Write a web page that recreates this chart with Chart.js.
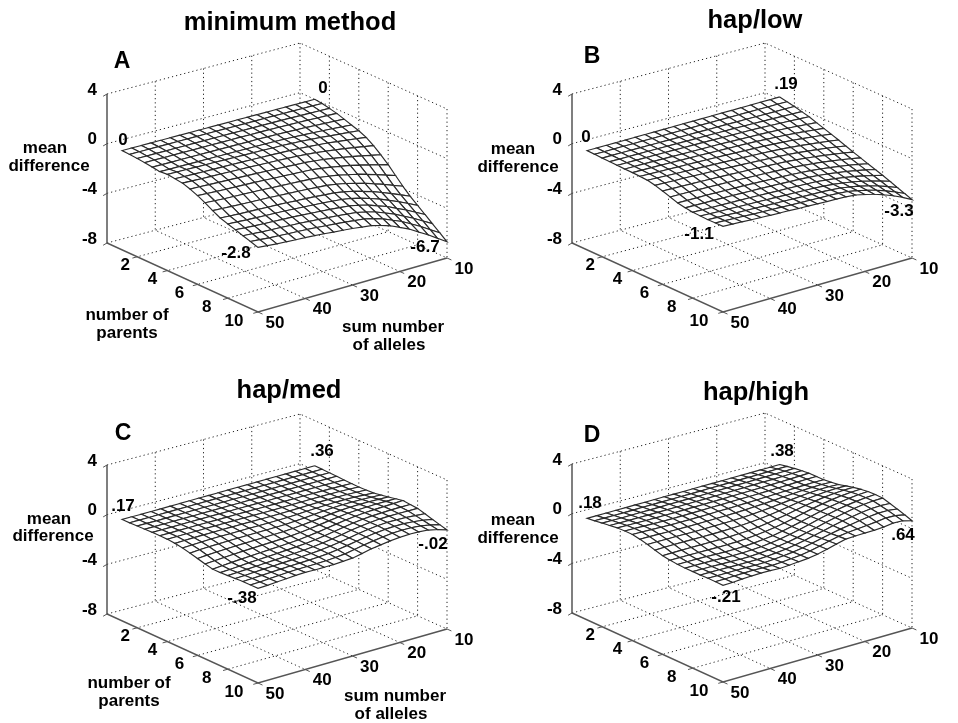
<!DOCTYPE html>
<html>
<head>
<meta charset="utf-8">
<title>mean difference surfaces</title>
<script src="https://cdn.jsdelivr.net/npm/chart.js@4"></script>
<style>
  body { margin: 0; background: #fff; overflow: hidden; }
  .panel { position: absolute; width: 493px; height: 353px; }
</style>
</head>
<body>
<div class="panel" style="left:0;top:0"><canvas id="chartA"></canvas></div>
<div class="panel" style="left:465px;top:0"><canvas id="chartB"></canvas></div>
<div class="panel" style="left:0;top:371px"><canvas id="chartC"></canvas></div>
<div class="panel" style="left:465px;top:370px"><canvas id="chartD"></canvas></div>
<script>
// axes
const parentsGrid = [1, 1.5, 2, 2.5, 3, 3.5, 4, 4.5, 5, 5.5, 6, 6.5, 7, 7.5, 8, 8.5, 9, 9.5, 10];
const allelesGrid = [10, 12, 14, 16, 18, 20, 22, 24, 26, 28, 30, 32, 34, 36, 38, 40, 42, 44, 46, 48, 50];
const parentsTicks = [2, 4, 6, 8, 10];
const allelesTicks = [10, 20, 30, 40, 50];
const zTicks = [4, 0, -4, -8];

// surfaces, one row per parentsGrid value, one column per allelesGrid value
const surfaceA = [
  [0, 0, 0, 0, 0, 0, 0, 0, 0, 0, 0, 0, 0, 0, 0, 0, 0, 0, 0, 0, 0],
  [-.07, -.06, -.06, -.05, -.05, -.04, -.04, -.04, -.04, -.04, -.03, -.03, -.03, -.03, -.03, -.03, -.03, -.03, -.03, -.03, -.03],
  [-.20, -.19, -.17, -.16, -.14, -.13, -.12, -.12, -.11, -.11, -.10, -.10, -.10, -.10, -.09, -.09, -.09, -.09, -.09, -.09, -.08],
  [-.34, -.31, -.29, -.26, -.24, -.22, -.21, -.19, -.18, -.18, -.17, -.17, -.17, -.16, -.16, -.16, -.15, -.15, -.15, -.14, -.14],
  [-.54, -.50, -.46, -.42, -.38, -.36, -.33, -.31, -.29, -.28, -.28, -.27, -.26, -.26, -.25, -.25, -.24, -.24, -.24, -.23, -.22],
  [-.74, -.68, -.63, -.58, -.53, -.49, -.45, -.42, -.40, -.39, -.38, -.37, -.36, -.35, -.35, -.34, -.34, -.33, -.32, -.32, -.31],
  [-.94, -.86, -.79, -.72, -.64, -.58, -.53, -.49, -.45, -.44, -.41, -.39, -.38, -.36, -.34, -.33, -.32, -.30, -.28, -.27, -.25],
  [-1.21, -1.11, -1.01, -.92, -.82, -.75, -.69, -.63, -.59, -.56, -.53, -.51, -.48, -.46, -.44, -.42, -.41, -.39, -.37, -.35, -.32],
  [-1.61, -1.48, -1.34, -1.22, -1.10, -1.00, -.90, -.83, -.77, -.73, -.69, -.66, -.63, -.59, -.57, -.54, -.51, -.49, -.47, -.43, -.40],
  [-2.08, -1.91, -1.74, -1.59, -1.44, -1.31, -1.19, -1.10, -1.02, -.98, -.93, -.89, -.86, -.82, -.79, -.76, -.73, -.70, -.67, -.63, -.60],
  [-2.61, -2.41, -2.20, -2.01, -1.82, -1.68, -1.53, -1.42, -1.32, -1.27, -1.23, -1.18, -1.15, -1.10, -1.06, -1.03, -1.00, -.97, -.93, -.89, -.85],
  [-3.22, -2.97, -2.72, -2.49, -2.26, -2.09, -1.91, -1.78, -1.67, -1.61, -1.56, -1.52, -1.47, -1.43, -1.38, -1.35, -1.31, -1.28, -1.25, -1.20, -1.15],
  [-3.82, -3.53, -3.24, -2.98, -2.72, -2.52, -2.31, -2.16, -2.04, -1.98, -1.92, -1.87, -1.82, -1.78, -1.73, -1.70, -1.66, -1.63, -1.59, -1.55, -1.50],
  [-4.36, -4.03, -3.71, -3.41, -3.12, -2.89, -2.67, -2.50, -2.37, -2.31, -2.24, -2.19, -2.15, -2.09, -2.05, -2.02, -1.98, -1.95, -1.92, -1.87, -1.82],
  [-4.82, -4.46, -4.10, -3.78, -3.46, -3.20, -2.95, -2.77, -2.63, -2.56, -2.48, -2.43, -2.38, -2.32, -2.27, -2.23, -2.20, -2.16, -2.12, -2.07, -2.02],
  [-5.29, -4.90, -4.50, -4.15, -3.79, -3.52, -3.24, -3.04, -2.88, -2.80, -2.73, -2.66, -2.61, -2.54, -2.49, -2.45, -2.41, -2.37, -2.33, -2.27, -2.21],
  [-5.76, -5.33, -4.90, -4.52, -4.13, -3.83, -3.53, -3.31, -3.14, -3.05, -2.97, -2.90, -2.84, -2.77, -2.71, -2.67, -2.62, -2.58, -2.54, -2.47, -2.41],
  [-6.23, -5.77, -5.30, -4.88, -4.46, -4.14, -3.81, -3.58, -3.39, -3.30, -3.21, -3.13, -3.07, -2.99, -2.93, -2.88, -2.84, -2.79, -2.74, -2.67, -2.60],
  [-6.7, -6.2, -5.7, -5.25, -4.8, -4.45, -4.1, -3.85, -3.65, -3.55, -3.45, -3.37, -3.3, -3.22, -3.15, -3.1, -3.05, -3.0, -2.95, -2.87, -2.8]
];

const surfaceB = [
  [.19, .18, .17, .16, .15, .14, .13, .12, .11, .10, .09, .08, .07, .06, .05, .04, .03, .02, .01, 0, 0],
  [.07, .07, .06, .06, .06, .05, .05, .05, .04, .04, .03, .03, .02, .02, .01, .01, 0, 0, -.01, -.02, -.02],
  [-.05, -.05, -.05, -.05, -.04, -.04, -.04, -.04, -.04, -.04, -.04, -.04, -.04, -.04, -.04, -.04, -.04, -.04, -.04, -.04, -.05],
  [-.2, -.18, -.16, -.14, -.13, -.11, -.10, -.09, -.09, -.08, -.08, -.08, -.07, -.07, -.07, -.06, -.06, -.06, -.06, -.06, -.06],
  [-.35, -.31, -.27, -.24, -.21, -.18, -.16, -.15, -.14, -.13, -.12, -.11, -.1, -.1, -.09, -.09, -.08, -.08, -.08, -.08, -.08],
  [-.55, -.49, -.43, -.38, -.33, -.29, -.26, -.24, -.22, -.2, -.18, -.17, -.16, -.15, -.14, -.13, -.12, -.11, -.1, -.1, -.1],
  [-.75, -.67, -.59, -.52, -.46, -.41, -.37, -.33, -.3, -.28, -.26, -.24, -.22, -.2, -.18, -.17, -.15, -.14, -.13, -.12, -.11],
  [-.95, -.85, -.76, -.68, -.6, -.54, -.49, -.44, -.41, -.38, -.35, -.32, -.3, -.27, -.25, -.23, -.21, -.19, -.17, -.15, -.13],
  [-1.15, -1.04, -.94, -.85, -.76, -.69, -.62, -.57, -.53, -.5, -.46, -.43, -.4, -.37, -.34, -.31, -.29, -.26, -.23, -.2, -.17],
  [-1.37, -1.24, -1.13, -1.03, -.94, -.85, -.78, -.72, -.68, -.64, -.6, -.56, -.53, -.49, -.46, -.43, -.4, -.37, -.35, -.32, -.3],
  [-1.6, -1.46, -1.33, -1.22, -1.12, -1.03, -.95, -.88, -.83, -.79, -.75, -.72, -.69, -.65, -.62, -.59, -.56, -.54, -.52, -.5, -.48],
  [-1.8, -1.65, -1.52, -1.4, -1.29, -1.2, -1.12, -1.05, -1, -.96, -.92, -.89, -.86, -.83, -.8, -.77, -.75, -.73, -.71, -.7, -.68],
  [-2, -1.84, -1.7, -1.57, -1.46, -1.36, -1.28, -1.21, -1.16, -1.12, -1.09, -1.05, -1.02, -.99, -.97, -.95, -.93, -.91, -.9, -.89, -.88],
  [-2.2, -2.02, -1.86, -1.72, -1.6, -1.49, -1.4, -1.33, -1.28, -1.25, -1.21, -1.18, -1.15, -1.12, -1.1, -1.08, -1.06, -1.04, -1.03, -1.02, -1],
  [-2.4, -2.2, -2.02, -1.86, -1.72, -1.6, -1.5, -1.42, -1.38, -1.35, -1.32, -1.29, -1.26, -1.23, -1.2, -1.18, -1.16, -1.14, -1.12, -1.1, -1.08],
  [-2.62, -2.38, -2.17, -1.97, -1.81, -1.68, -1.57, -1.5, -1.45, -1.42, -1.39, -1.36, -1.33, -1.3, -1.27, -1.25, -1.22, -1.19, -1.17, -1.14, -1.1],
  [-2.85, -2.57, -2.3, -2.07, -1.88, -1.73, -1.6, -1.53, -1.48, -1.46, -1.43, -1.4, -1.37, -1.34, -1.31, -1.28, -1.25, -1.22, -1.18, -1.15, -1.12],
  [-3.07, -2.73, -2.43, -2.16, -1.94, -1.76, -1.61, -1.54, -1.5, -1.48, -1.45, -1.42, -1.39, -1.35, -1.32, -1.29, -1.26, -1.22, -1.18, -1.14, -1.11],
  [-3.3, -2.9, -2.55, -2.25, -2.0, -1.8, -1.62, -1.55, -1.52, -1.5, -1.47, -1.43, -1.4, -1.36, -1.33, -1.3, -1.26, -1.22, -1.18, -1.14, -1.1]
];

const surfaceC = [
  [.36, .35, .34, .33, .32, .31, .30, .29, .28, .27, .26, .25, .24, .23, .22, .21, .20, .19, .18, .18, .17],
  [.35, .34, .33, .33, .32, .31, .3, .29, .28, .27, .26, .26, .25, .24, .23, .22, .21, .2, .19, .19, .18],
  [.33, .33, .32, .32, .31, .3, .3, .29, .28, .27, .27, .26, .25, .25, .24, .23, .22, .21, .2, .2, .2],
  [.31, .31, .31, .31, .3, .3, .29, .29, .28, .28, .27, .27, .26, .26, .25, .24, .24, .23, .22, .22, .22],
  [.28, .29, .3, .3, .3, .29, .29, .29, .28, .28, .28, .28, .27, .27, .27, .26, .26, .25, .25, .24, .24],
  [.26, .28, .29, .3, .3, .3, .29, .29, .28, .28, .28, .28, .28, .28, .27, .27, .27, .26, .26, .25, .25],
  [.25, .28, .3, .31, .31, .31, .3, .29, .28, .27, .27, .27, .27, .27, .27, .27, .27, .26, .26, .25, .24],
  [.27, .3, .33, .34, .34, .33, .31, .29, .27, .26, .25, .25, .25, .25, .25, .25, .24, .24, .23, .21, .19],
  [.3, .34, .38, .4, .39, .37, .34, .3, .26, .23, .21, .2, .2, .2, .2, .19, .19, .18, .16, .13, .1],
  [.4, .43, .46, .47, .46, .43, .38, .32, .25, .2, .15, .13, .12, .12, .11, .1, .09, .07, .05, .02, -.04],
  [.5, .53, .55, .55, .53, .49, .42, .33, .24, .16, .09, .05, .03, .01, 0, -.02, -.04, -.07, -.1, -.14, -.2],
  [.63, .63, .63, .61, .58, .53, .44, .34, .23, .13, .04, -.02, -.06, -.09, -.12, -.15, -.18, -.22, -.26, -.31, -.36],
  [.75, .72, .69, .66, .62, .56, .47, .35, .23, .11, .01, -.07, -.12, -.17, -.21, -.25, -.29, -.33, -.38, -.44, -.5],
  [.7, .7, .69, .67, .64, .58, .49, .37, .24, .11, 0, -.08, -.14, -.19, -.24, -.28, -.32, -.36, -.41, -.46, -.5],
  [.65, .66, .67, .67, .65, .59, .5, .39, .25, .12, .01, -.07, -.14, -.19, -.23, -.27, -.31, -.35, -.39, -.43, -.46],
  [.48, .55, .61, .64, .64, .59, .51, .4, .26, .13, .02, -.07, -.13, -.17, -.21, -.24, -.27, -.31, -.35, -.39, -.42],
  [.3, .44, .54, .6, .6, .57, .49, .39, .26, .13, .01, -.08, -.14, -.17, -.2, -.22, -.25, -.28, -.32, -.36, -.38],
  [.14, .33, .47, .54, .56, .53, .45, .35, .24, .09, -.05, -.12, -.17, -.19, -.2, -.2, -.23, -.27, -.31, -.36, -.38],
  [-.02, .22, .4, .47, .5, .47, .4, .3, .2, .03, -.12, -.16, -.2, -.2, -.2, -.18, -.2, -.25, -.3, -.35, -.38]
];

const surfaceD = [
  [.38, .37, .36, .35, .34, .33, .32, .31, .3, .29, .28, .27, .26, .25, .24, .23, .22, .21, .2, .19, .18],
  [.5, .49, .47, .45, .44, .43, .41, .4, .39, .37, .36, .35, .34, .33, .32, .31, .29, .28, .27, .27, .26],
  [.6, .58, .56, .54, .53, .51, .5, .48, .47, .45, .44, .43, .42, .41, .39, .38, .37, .36, .35, .35, .35],
  [.68, .66, .63, .61, .6, .58, .56, .55, .53, .52, .5, .49, .48, .47, .46, .45, .44, .43, .43, .43, .44],
  [.75, .72, .69, .66, .64, .62, .61, .59, .58, .56, .55, .53, .52, .51, .5, .49, .49, .49, .5, .51, .52],
  [.75, .74, .71, .68, .66, .64, .62, .6, .59, .58, .56, .55, .53, .52, .51, .5, .5, .51, .52, .54, .55],
  [.75, .76, .74, .71, .68, .65, .62, .59, .57, .55, .53, .52, .5, .49, .48, .48, .48, .5, .52, .54, .55],
  [.82, .84, .82, .78, .73, .68, .62, .57, .53, .49, .46, .44, .42, .41, .4, .4, .4, .41, .43, .44, .44],
  [.9, .93, .92, .87, .8, .72, .63, .54, .47, .41, .36, .33, .31, .3, .29, .29, .29, .3, .3, .3, .3],
  [1.05, 1.05, 1.02, .96, .87, .77, .64, .51, .4, .31, .24, .19, .16, .15, .14, .14, .14, .15, .15, .14, .12],
  [1.2, 1.18, 1.13, 1.05, .94, .81, .65, .49, .35, .22, .12, .05, .01, -.02, -.03, -.03, -.03, -.03, -.03, -.04, -.05],
  [1.32, 1.28, 1.21, 1.12, .99, .84, .66, .47, .31, .16, .04, -.05, -.11, -.15, -.17, -.17, -.16, -.15, -.14, -.14, -.14],
  [1.4, 1.35, 1.27, 1.16, 1.03, .86, .67, .47, .29, .13, -.02, -.12, -.19, -.24, -.26, -.26, -.24, -.21, -.2, -.2, -.2],
  [1.42, 1.38, 1.3, 1.19, 1.05, .88, .69, .49, .3, .13, -.02, -.13, -.21, -.26, -.29, -.29, -.27, -.24, -.22, -.22, -.22],
  [1.4, 1.38, 1.31, 1.2, 1.06, .9, .72, .52, .33, .15, 0, -.12, -.2, -.26, -.3, -.3, -.28, -.26, -.24, -.23, -.22],
  [1.23, 1.27, 1.24, 1.15, 1.03, .89, .73, .55, .37, .19, .04, -.08, -.16, -.23, -.27, -.27, -.26, -.25, -.23, -.22, -.22],
  [1.05, 1.15, 1.15, 1.07, .97, .85, .73, .58, .41, .24, .08, -.04, -.12, -.18, -.23, -.23, -.21, -.21, -.21, -.21, -.2],
  [.85, 1.0, 1.02, .93, .85, .79, .72, .63, .46, .27, .1, -.02, -.09, -.15, -.19, -.17, -.15, -.16, -.18, -.2, -.2],
  [.64, .85, .88, .78, .73, .73, .72, .68, .5, .3, .12, 0, -.06, -.12, -.16, -.12, -.1, -.12, -.15, -.2, -.21]
];

const titles = ['minimum method', 'hap/low', 'hap/med', 'hap/high'];
const letters = ['A', 'B', 'C', 'D'];
// corner values: left, back, front, right
const cornerLabelsA = ['0', '0', '-2.8', '-6.7'];
const cornerLabelsB = ['0', '.19', '-1.1', '-3.3'];
const cornerLabelsC = ['.17', '.36', '-.38', '-.02'];
const cornerLabelsD = ['.18', '.38', '-.21', '.64'];

// where things go on each panel
const layouts = [
  { titleX: 290, titleY: 30, letter: [122, 62], mean: [45, 148], diff: [49, 166], corners: [[123, 140], [323, 88], [236, 253], [425, 247]], parents: [127, 315], sum: [393, 327] },
  { titleX: 290, titleY: 28, letter: [127, 57], mean: [48, 149], diff: [53, 167], corners: [[121, 137], [321, 84], [234, 234], [434, 211]] },
  { titleX: 289, titleY: 27, letter: [123, 63], mean: [49, 148], diff: [53, 165], corners: [[123, 135], [322, 80], [242, 227], [433, 173]], parents: [129, 312], sum: [395, 325] },
  { titleX: 291, titleY: 30, letter: [127, 66], mean: [48, 150], diff: [53, 168], corners: [[125, 133], [317, 81], [261, 227], [438, 165]] }
];

// floor corners of the box, in panel units
const floorLeft = { x: 107, y: 243 };   // parents 0, alleles 50
const floorFront = { x: 258, y: 312 };  // parents 10, alleles 50
const floorRight = { x: 447, y: 258 };  // parents 10, alleles 10
const floorBack = { x: 300, y: 192 };   // parents 0, alleles 10
const zUnit = 149 / 12;

function project(p, a, z) {
  const u = p / 10;
  const v = (a - 10) / 40;
  const x = (1 - u) * (1 - v) * floorBack.x + u * (1 - v) * floorRight.x + (1 - u) * v * floorLeft.x + u * v * floorFront.x;
  const y = (1 - u) * (1 - v) * floorBack.y + u * (1 - v) * floorRight.y + (1 - u) * v * floorLeft.y + u * v * floorFront.y;
  return { x: x, y: y - (z + 8) * zUnit };
}

function lineDataset(points, color, width, dash, order) {
  return { data: points, showLine: true, pointRadius: 0, borderColor: color, borderWidth: width, borderDash: dash, fill: false, order: order };
}

function buildDatasets(surface) {
  const sets = [];
  const dots = [1.2, 3];
  const gridColor = '#222';

  // dotted box behind the surface
  zTicks.forEach(z => {
    sets.push(lineDataset([project(0, 50, z), project(0, 10, z), project(10, 10, z)], gridColor, 1, dots, 100000));
  });
  [20, 30, 40].forEach(a => {
    sets.push(lineDataset([project(0, a, 4), project(0, a, -8), project(10, a, -8)], gridColor, 1, dots, 100000));
  });
  [2, 4, 6, 8].forEach(p => {
    sets.push(lineDataset([project(p, 10, 4), project(p, 10, -8), project(p, 50, -8)], gridColor, 1, dots, 100000));
  });
  sets.push(lineDataset([project(0, 10, 4), project(0, 10, -8)], gridColor, 1, dots, 100000));
  sets.push(lineDataset([project(10, 10, 4), project(10, 10, -8)], gridColor, 1, dots, 100000));

  // solid axes and tick marks
  const axisColor = '#555';
  sets.push(lineDataset([project(0, 50, 4), project(0, 50, -8), project(10, 50, -8), project(10, 10, -8)], axisColor, 1.5, [], 50000));
  zTicks.forEach(z => {
    sets.push(lineDataset([project(0, 50, z), project(0, 50.8, z - .1)], axisColor, 1, [], 50000));
  });
  parentsTicks.forEach(p => {
    sets.push(lineDataset([project(p, 50, -8), project(p, 51, -8)], axisColor, 1, [], 50000));
  });
  allelesTicks.forEach(a => {
    sets.push(lineDataset([project(10, a, -8), project(10.3, a, -8)], axisColor, 1, [], 50000));
  });

  // surface patches, far corner first
  let order = 40000;
  for (let i = 0; i < parentsGrid.length - 1; i++) {
    for (let j = 0; j < allelesGrid.length - 1; j++) {
      const patch = [
        project(parentsGrid[i], allelesGrid[j], surface[i][j]),
        project(parentsGrid[i + 1], allelesGrid[j], surface[i + 1][j]),
        project(parentsGrid[i + 1], allelesGrid[j + 1], surface[i + 1][j + 1]),
        project(parentsGrid[i], allelesGrid[j + 1], surface[i][j + 1]),
        project(parentsGrid[i], allelesGrid[j], surface[i][j])
      ];
      const ds = lineDataset(patch, '#2a2a2a', 1.15, [], order--);
      ds.fill = 'shape';
      ds.backgroundColor = '#fff';
      sets.push(ds);
    }
  }
  return sets;
}

function textPlugin(index, cornerLabels) {
  const lay = layouts[index];
  return {
    id: 'panelText',
    afterDraw(chart) {
      const ctx = chart.ctx;
      const sx = chart.scales.x;
      const sy = chart.scales.y;
      const put = (txt, x, y, size, align, base) => {
        ctx.font = 'bold ' + size + 'px "Liberation Sans", Arial, sans-serif';
        ctx.textAlign = align || 'center';
        ctx.textBaseline = base || 'middle';
        ctx.fillText(txt, sx.getPixelForValue(x), sy.getPixelForValue(y));
      };
      ctx.save();
      ctx.fillStyle = '#000';
      put(titles[index], lay.titleX, lay.titleY, 25.5, 'center', 'alphabetic');
      put(letters[index], lay.letter[0], lay.letter[1], 23);
      put('mean', lay.mean[0], lay.mean[1], 17);
      put('difference', lay.diff[0], lay.diff[1], 17);
      zTicks.forEach(z => {
        const t = project(0, 50, z);
        put(String(z), t.x - 10, t.y - 4, 17, 'right');
      });
      parentsTicks.forEach(p => {
        const t = project(p, 50, -8);
        put(String(p), t.x - 12 - (p - 2) * 1.5, t.y + 9, 17);
      });
      allelesTicks.forEach(a => {
        const t = project(10, a, -8);
        put(String(a), t.x + 17, t.y + 11, 17);
      });
      cornerLabels.forEach((txt, i) => {
        put(txt, lay.corners[i][0], lay.corners[i][1], 17);
      });
      if (lay.parents) {
        put('number of', lay.parents[0], lay.parents[1], 17);
        put('parents', lay.parents[0], lay.parents[1] + 18, 17);
        put('sum number', lay.sum[0], lay.sum[1], 17);
        put('of alleles', lay.sum[0] - 4, lay.sum[1] + 18, 17);
      }
      ctx.restore();
    }
  };
}

function makeChart(id, index, surface, cornerLabels) {
  new Chart(document.getElementById(id), {
    type: 'scatter',
    data: { datasets: buildDatasets(surface) },
    options: {
      responsive: false,
      animation: false,
      events: [],
      layout: { padding: 0 },
      plugins: { legend: { display: false }, tooltip: { enabled: false } },
      scales: {
        x: { type: 'linear', display: false, min: 0, max: 493 },
        y: { type: 'linear', display: false, min: 0, max: 353, reverse: true }
      }
    },
    plugins: [textPlugin(index, cornerLabels)]
  });
}

document.querySelectorAll('canvas').forEach(c => { c.width = 493; c.height = 353; });
makeChart('chartA', 0, surfaceA, cornerLabelsA);
makeChart('chartB', 1, surfaceB, cornerLabelsB);
makeChart('chartC', 2, surfaceC, cornerLabelsC);
makeChart('chartD', 3, surfaceD, cornerLabelsD);
</script>
</body>
</html>
